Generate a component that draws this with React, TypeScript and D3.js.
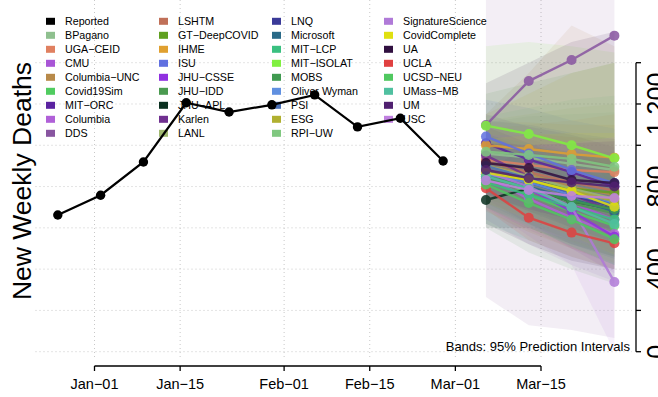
import React from 'react';
import * as d3 from 'd3';

const reportedDates = ['2020-12-26', '2021-01-02', '2021-01-09', '2021-01-16', '2021-01-23', '2021-01-30', '2021-02-06', '2021-02-13', '2021-02-20', '2021-02-27'];
const reportedDeaths = [662, 758, 919, 1206, 1161, 1196, 1244, 1089, 1131, 924];

const forecastDates = ['2021-03-06', '2021-03-13', '2021-03-20', '2021-03-27'];

const modelNames = ['BPagano', 'UGA\u2212CEID', 'CMU', 'Columbia\u2212UNC', 'Covid19Sim', 'MIT\u2212ORC', 'Columbia', 'DDS',
  'LSHTM', 'GT\u2212DeepCOVID', 'IHME', 'ISU', 'JHU\u2212CSSE', 'JHU\u2212IDD', 'JHU\u2212APL', 'Karlen', 'LANL',
  'LNQ', 'Microsoft', 'MIT\u2212LCP', 'MIT\u2212ISOLAT', 'MOBS', 'Oliver Wyman', 'PSI', 'ESG', 'RPI\u2212UW',
  'SignatureScience', 'CovidComplete', 'UA', 'UCLA', 'UCSD\u2212NEU', 'UMass\u2212MB', 'UM', 'USC'];

const modelColors = ['#8fc08f', '#e08060', '#a855d6', '#b88a4a', '#50cc60', '#5a22a0', '#b060d8', '#8855a0',
  '#c07058', '#60a020', '#e0a030', '#6070e0', '#9030e0', '#4a9a50', '#0a3020', '#703090', '#a0b870',
  '#3a3a98', '#2a6a88', '#3ac080', '#80f040', '#409a50', '#6090e0', '#4a70b8', '#b0b030', '#80c880',
  '#b07ad8', '#e0e010', '#301040', '#e04040', '#50c860', '#50c0a0', '#502070', '#c080e0'];

const modelMedian = [
  [960, 940, 910, 880], [930, 905, 880, 870], [860, 780, 720, 640], [900, 860, 800, 760],
  [880, 760, 680, 610], [1010, 930, 870, 800], [850, 740, 650, 570], [1098, 1311, 1413, 1531],
  [920, 870, 820, 780], [870, 830, 790, 770], [1000, 982, 957, 940], [1042, 960, 880, 817],
  [890, 790, 680, 557], [860, 790, 720, 670], [735, 790, 730, 690], [950, 850, 760, 680],
  [900, 850, 790, 740], [880, 820, 760, 700], [870, 800, 740, 680], [820, 760, 700, 640],
  [1095, 1055, 1000, 937], [840, 790, 730, 690], [860, 820, 760, 720], [900, 840, 770, 710],
  [880, 830, 780, 730], [969, 953, 934, 896], [870, 800, 700, 338], [866, 832, 778, 702],
  [914, 890, 832, 817], [792, 649, 577, 525], [810, 720, 640, 545], [850, 790, 701, 619],
  [880, 841, 820, 800], [830, 783, 754, 745]];

const modelLower = [
  [820, 760, 700, 640], [800, 740, 690, 650], [700, 590, 500, 420], [720, 650, 570, 510],
  [780, 650, 560, 480], [870, 780, 700, 620], [640, 520, 420, 340], [265, 128, 105, 66],
  [780, 700, 630, 570], [740, 680, 620, 580], [900, 860, 820, 780], [880, 760, 660, 580],
  [740, 620, 500, 380], [600, 480, 400, 330], [600, 600, 520, 460], [820, 700, 600, 510],
  [720, 620, 530, 460], [760, 680, 600, 530], [770, 680, 600, 530], [620, 540, 460, 400],
  [850, 780, 700, 620], [700, 620, 540, 480], [760, 700, 630, 580], [720, 620, 520, 450],
  [680, 580, 500, 430], [820, 760, 700, 640], [700, 560, 420, 0], [720, 640, 560, 470],
  [620, 520, 440, 400], [690, 540, 460, 400], [700, 600, 510, 420], [700, 610, 510, 420],
  [760, 690, 640, 590], [680, 600, 540, 480]];

const modelUpper = [
  [1110, 1140, 1150, 1160], [1080, 1100, 1120, 1150], [1030, 990, 960, 900], [1150, 1350, 1580, 1480],
  [990, 880, 810, 750], [1150, 1090, 1050, 990], [1100, 1030, 960, 900], [2000, 2400, 2600, 2800],
  [1080, 1060, 1040, 1030], [1010, 990, 970, 970], [1110, 1110, 1100, 1100], [1220, 1180, 1120, 1080],
  [1060, 980, 880, 770], [1250, 1300, 1350, 1400], [880, 990, 960, 940], [1090, 1010, 930, 860],
  [1120, 1150, 1180, 1200], [1010, 970, 930, 880], [980, 930, 890, 840], [1050, 1010, 960, 920],
  [1480, 1500, 1480, 1450], [1000, 980, 950, 930], [970, 950, 900, 870], [1120, 1100, 1060, 1030],
  [1150, 1250, 1350, 1400], [1140, 1180, 1220, 1240], [1050, 1050, 1000, 800], [1030, 1050, 1060, 1060],
  [1300, 1400, 1500, 1550], [900, 780, 720, 680], [930, 850, 780, 690], [1010, 990, 920, 850],
  [1010, 1000, 1010, 1020], [1000, 1000, 1010, 1040]];

const xTickDates = ['2021-01-01', '2021-01-15', '2021-02-01', '2021-02-15', '2021-03-01', '2021-03-15'];
const xTickLabels = ['Jan\u221201', 'Jan\u221215', 'Feb\u221201', 'Feb\u221215', 'Mar\u221201', 'Mar\u221215'];
const yTicks = [0, 200, 400, 600, 800, 1000, 1200, 1400];
const yLabelValues = [0, 400, 800, 1200];
const yLabelTexts = ['0', '400', '800', '1,200'];

const W = 658;
const H = 397;
const FONT = '"Liberation Sans", Arial, Helvetica, sans-serif';

export default function App() {
  const parse = (s: string) => new Date(s + 'T00:00:00Z');
  const x = d3.scaleUtc().domain([parse('2021-01-01'), parse('2021-03-15')]).range([94.5, 541]);
  const y = d3.scaleLinear().domain([0, 1400]).range([351.7, 62.7]);
  const plotL = 35.5, plotR = 636, plotT = 0, plotB = 358;
  const fx = forecastDates.map(parse);

  const line = d3.line<[Date, number]>().x(d => x(d[0])).y(d => y(d[1]));
  const area = d3.area<[Date, number, number]>().x(d => x(d[0])).y0(d => y(d[1])).y1(d => y(d[2]));

  const legendItems = [{ name: 'Reported', color: '#000000' }, ...modelNames.map((n, i) => ({ name: n, color: modelColors[i] }))];
  const colX = [46, 159, 272, 384];

  return (
    <svg width={W} height={H} style={{ position: 'absolute', left: 0, top: 0, fontFamily: FONT }}>
      <defs>
        <clipPath id="plotclip"><rect x={plotL} y={plotT} width={plotR - plotL} height={plotB - plotT} /></clipPath>
      </defs>
      <rect x={0} y={0} width={W} height={H} fill="#ffffff" />
      {/* grid */}
      <g stroke="#c8c8c8" strokeWidth={1} strokeDasharray="1,3">
        {yTicks.map(t => <line key={'gy' + t} x1={plotL} x2={plotR - 4} y1={y(t)} y2={y(t)} />)}
        {xTickDates.map(d => <line key={'gx' + d} x1={x(parse(d))} x2={x(parse(d))} y1={plotT} y2={plotB} />)}
      </g>
      {/* legend */}
      <g fontSize={10.7} fill="#000">
        {legendItems.map((it, i) => {
          const c = Math.floor(i / 9);
          const r = i % 9;
          const cy = 21.3 + r * 14;
          return (
            <g key={it.name}>
              <rect x={colX[c]} y={cy - 3.5} width={9} height={7} fill={it.color} />
              <text x={colX[c] + 19} y={cy} dy="0.36em">{it.name}</text>
            </g>
          );
        })}
      </g>
      {/* bands */}
      <g clipPath="url(#plotclip)">
        {modelNames.map((n, i) => (
          <path key={'b' + n} d={area(fx.map((d, k) => [d, modelLower[i][k], modelUpper[i][k]] as [Date, number, number])) || ''}
            fill={modelColors[i]} fillOpacity={0.1} stroke="none" />
        ))}
      </g>
      {/* model lines */}
      <g clipPath="url(#plotclip)">
        {modelNames.map((n, i) => (
          <g key={'l' + n} opacity={0.85}>
            <path d={line(fx.map((d, k) => [d, modelMedian[i][k]] as [Date, number])) || ''} fill="none" stroke={modelColors[i]} strokeWidth={2.4} />
            {fx.map((d, k) => <circle key={k} cx={x(d)} cy={y(modelMedian[i][k])} r={5} fill={modelColors[i]} />)}
          </g>
        ))}
      </g>
      {/* reported */}
      <path d={line(reportedDates.map((d, k) => [parse(d), reportedDeaths[k]] as [Date, number])) || ''} fill="none" stroke="#000" strokeWidth={2.2} />
      {reportedDates.map((d, k) => <circle key={'r' + d} cx={x(parse(d))} cy={y(reportedDeaths[k])} r={4.7} fill="#000" />)}
      {/* band note */}
      <text x={630} y={351} textAnchor="end" fontSize={13} fill="#000">Bands: 95% Prediction Intervals</text>
      {/* x axis */}
      <g stroke="#000" strokeWidth={1.3} fill="none">
        <line x1={x(parse(xTickDates[0]))} x2={x(parse(xTickDates[xTickDates.length - 1]))} y1={366} y2={366} />
        {xTickDates.map(d => <line key={'xt' + d} x1={x(parse(d))} x2={x(parse(d))} y1={366} y2={371} />)}
      </g>
      <g fontSize={14.5} textAnchor="middle" fill="#000">
        {xTickDates.map((d, k) => <text key={'xl' + d} x={x(parse(d))} y={389}>{xTickLabels[k]}</text>)}
      </g>
      {/* right y axis */}
      <g stroke="#000" strokeWidth={1.3} fill="none">
        <line x1={636} x2={636} y1={y(0)} y2={y(1400)} />
        {yTicks.map(t => <line key={'yt' + t} x1={636} x2={641} y1={y(t)} y2={y(t)} />)}
      </g>
      <g fontSize={25} textAnchor="middle" fill="#000">
        {yLabelValues.map((v, k) => (
          <text key={'yl' + v} transform={`translate(${665},${y(v)}) rotate(-90)`}>{yLabelTexts[k]}</text>
        ))}
      </g>
      {/* y title */}
      <text transform={`translate(31,181) rotate(-90)`} textAnchor="middle" fontSize={26.5} fill="#000">New Weekly Deaths</text>
    </svg>
  );
}
